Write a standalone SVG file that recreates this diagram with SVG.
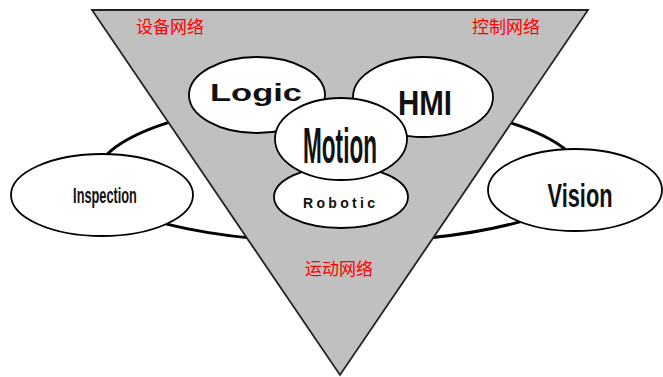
<svg xmlns="http://www.w3.org/2000/svg" width="663" height="377" viewBox="0 0 663 377">
<style>
.node{fill:#fff;stroke:#000;stroke-width:1.8}
.lbl{font-family:"Liberation Sans",Arial,sans-serif;font-weight:bold;fill:#111;text-anchor:middle}
.cn{font-family:"Noto Sans CJK SC","Noto Sans",sans-serif;font-size:17px;fill:#ff0000}
.ring{fill:none;stroke:#000;stroke-width:3}
</style>
<rect width="663" height="377" fill="#fff"/>
<g id="connectors">
<path class="ring" d="M 94 180 A 245 80 0 0 1 584 180 A 245 62 0 0 1 94 180 Z"/>
</g>
<g id="inspection">
<ellipse class="node" cx="102" cy="195" rx="91" ry="41"/>
<text class="lbl" transform="translate(105,203) scale(0.58,1)" x="0" y="0" font-size="22" textLength="110" lengthAdjust="spacingAndGlyphs">Inspection</text>
</g>
<g id="vision">
<ellipse class="node" cx="575" cy="190" rx="87" ry="41"/>
<text class="lbl" transform="translate(580,207) scale(0.64,1)" x="0" y="0" font-size="34" textLength="101.5" lengthAdjust="spacingAndGlyphs">Vision</text>
</g>
<g id="triangle">
<polygon points="92,10 588,10 340,375" fill="#c0c0c0" stroke="#222" stroke-width="1.8" stroke-linejoin="miter"/>
</g>
<g id="logic">
<ellipse class="node" cx="257" cy="95" rx="68" ry="38"/>
<text class="lbl" x="256" y="101" font-size="24" textLength="92" lengthAdjust="spacingAndGlyphs">Logic</text>
</g>
<g id="hmi">
<ellipse class="node" cx="423" cy="97" rx="70" ry="40"/>
<text class="lbl" transform="translate(425,115) scale(0.85,1)" x="0" y="0" font-size="35" textLength="63.5" lengthAdjust="spacingAndGlyphs">HMI</text>
</g>
<g id="robotic">
<ellipse class="node" cx="341" cy="197" rx="67" ry="31"/>
<text class="lbl" x="339" y="208" font-size="14" textLength="72" lengthAdjust="spacing">Robotic</text>
</g>
<g id="motion">
<ellipse class="node" cx="341" cy="139" rx="66" ry="41"/>
<text class="lbl" transform="translate(340,163) scale(0.45,1)" x="0" y="0" font-size="50" textLength="164.4" lengthAdjust="spacingAndGlyphs">Motion</text>
</g>
<g id="labels">
<text class="cn" x="136" y="33">设备网络</text>
<text class="cn" x="472" y="33">控制网络</text>
<text class="cn" x="305" y="275">运动网络</text>
</g>
</svg>
